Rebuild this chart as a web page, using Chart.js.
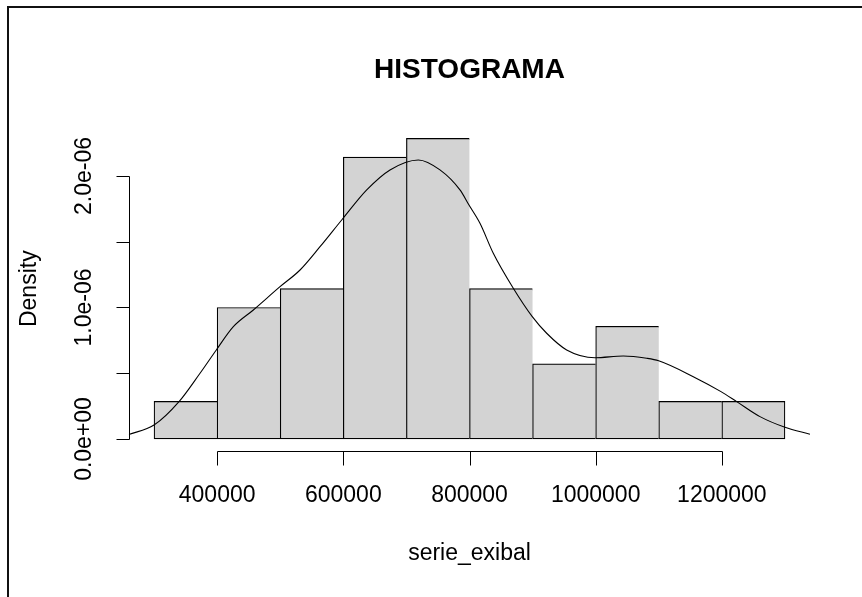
<!DOCTYPE html>
<html><head><meta charset="utf-8">
<script src="https://cdn.jsdelivr.net/npm/chart.js@4.4.0/dist/chart.umd.min.js"></script>
<style>html,body{margin:0;padding:0;background:#fff;}canvas{display:block;}</style>
</head><body>
<canvas id="c" width="862" height="597"></canvas>
<script>
// Histogram bins (midpoints) and densities
const binMids = [350000, 450000, 550000, 650000, 750000, 850000, 950000, 1050000, 1150000, 1250000];
const binDensity = [0.2857e-6, 1.0e-6, 1.1429e-6, 2.1429e-6, 2.2857e-6, 1.1429e-6, 0.5714e-6, 0.8571e-6, 0.2857e-6, 0.2857e-6];
// Kernel density curve
const kdeX = [260000, 300000, 339600, 372900, 398700, 425700, 457400, 499700, 531400, 563100, 598400, 637100, 674000, 718900, 753200, 784900, 799200, 816600, 837700, 869400, 899500, 922300, 954000, 998900, 1043700, 1080800, 1099800, 1154700, 1198600, 1223500, 1260400, 1300000, 1339600];
const kdeY = [0.034e-6, 0.106e-6, 0.284e-6, 0.500e-6, 0.677e-6, 0.854e-6, 0.981e-6, 1.158e-6, 1.285e-6, 1.462e-6, 1.671e-6, 1.894e-6, 2.046e-6, 2.122e-6, 2.046e-6, 1.894e-6, 1.779e-6, 1.640e-6, 1.412e-6, 1.146e-6, 0.930e-6, 0.804e-6, 0.677e-6, 0.618e-6, 0.631e-6, 0.614e-6, 0.595e-6, 0.474e-6, 0.360e-6, 0.284e-6, 0.170e-6, 0.089e-6, 0.036e-6];
// Axis ticks
const xTicks = [400000, 600000, 800000, 1000000, 1200000];
const xTickLabels = ['400000', '600000', '800000', '1000000', '1200000'];
const yTicks = [0, 0.5e-6, 1.0e-6, 1.5e-6, 2.0e-6];
const yTickLabels = ['0.0e+00', '', '1.0e-06', '', '2.0e-06'];
const titleText = 'HISTOGRAMA';
const xTitle = 'serie_exibal';
const yTitle = 'Density';

const FONT = '"Liberation Sans", Arial, Helvetica, sans-serif';

const framePlugin = {
  id: 'frame',
  beforeDraw(chart) {
    const ctx = chart.ctx;
    ctx.save();
    ctx.fillStyle = '#fff';
    ctx.fillRect(0, 0, chart.width, chart.height);
    ctx.fillStyle = '#111';
    ctx.fillRect(7, 6, chart.width - 7, 2);
    ctx.fillRect(7, 6, 2, chart.height - 6);
    ctx.restore();
  }
};

const rAxesPlugin = {
  id: 'rAxes',
  afterDatasetsDraw(chart) {
    const ctx = chart.ctx;
    const xs = chart.scales.x, ys = chart.scales.y, ca = chart.chartArea;
    ctx.save();
    ctx.strokeStyle = '#000';
    ctx.fillStyle = '#000';
    ctx.lineWidth = 1;
    // x axis
    const ax = Math.round(ca.bottom) + 0.5;
    const x0 = Math.round(xs.getPixelForValue(xTicks[0])) + 0.5;
    const x1 = Math.round(xs.getPixelForValue(xTicks[xTicks.length - 1])) + 0.5;
    ctx.beginPath();
    ctx.moveTo(x0, ax); ctx.lineTo(x1, ax);
    xTicks.forEach(v => {
      const px = Math.round(xs.getPixelForValue(v)) + 0.5;
      ctx.moveTo(px, ax); ctx.lineTo(px, ax + 14);
    });
    // y axis
    const ay = Math.round(ca.left) + 0.5;
    const y0 = Math.round(ys.getPixelForValue(yTicks[0])) + 0.5;
    const y1 = Math.round(ys.getPixelForValue(yTicks[yTicks.length - 1])) + 0.5;
    ctx.moveTo(ay, y0); ctx.lineTo(ay, y1);
    yTicks.forEach(v => {
      const py = Math.round(ys.getPixelForValue(v)) + 0.5;
      ctx.moveTo(ay, py); ctx.lineTo(ay - 13, py);
    });
    ctx.stroke();

    ctx.font = '23px ' + FONT;
    ctx.textAlign = 'center';
    ctx.textBaseline = 'alphabetic';
    xTicks.forEach((v, i) => {
      ctx.fillText(xTickLabels[i], xs.getPixelForValue(v), 502);
    });
    yTicks.forEach((v, i) => {
      if (!yTickLabels[i]) return;
      ctx.save();
      ctx.translate(91, ys.getPixelForValue(v));
      ctx.rotate(-Math.PI / 2);
      ctx.fillText(yTickLabels[i], 0, 0);
      ctx.restore();
    });
    // axis titles
    const cx = (ca.left + ca.right) / 2;
    const cy = (ca.top + ca.bottom) / 2;
    ctx.fillText(xTitle, cx, 560);
    ctx.save();
    ctx.translate(36, cy);
    ctx.rotate(-Math.PI / 2);
    ctx.fillText(yTitle, 0, 0);
    ctx.restore();
    // main title
    ctx.font = 'bold 28px ' + FONT;
    ctx.fillText(titleText, cx, 78);
    ctx.restore();
  }
};

new Chart(document.getElementById('c'), {
  type: 'bar',
  data: {
    datasets: [
      {
        type: 'line',
        data: kdeX.map((x, i) => ({ x: x, y: kdeY[i] })),
        borderColor: '#000',
        borderWidth: 1.1,
        pointRadius: 0,
        fill: false,
        cubicInterpolationMode: 'monotone',
        order: 1
      },
      {
        type: 'bar',
        data: binMids.map((x, i) => ({ x: x, y: binDensity[i] })),
        backgroundColor: '#d3d3d3',
        borderColor: '#000',
        borderWidth: c => ({ top: 1.2, bottom: 1.2, left: 1.2, right: c.dataIndex === binMids.length - 1 ? 1.2 : 0 }),
        borderSkipped: false,
        barPercentage: 1,
        categoryPercentage: 1,
        order: 2
      }
    ]
  },
  options: {
    responsive: false,
    animation: false,
    devicePixelRatio: 1,
    layout: { padding: { left: 128.8, right: 51.8, top: 126.4, bottom: 146 } },
    scales: {
      x: { type: 'linear', offset: false, min: 260000, max: 1340000, display: false },
      y: { type: 'linear', min: -0.0914e-6, max: 2.377e-6, display: false }
    },
    plugins: { legend: { display: false }, tooltip: { enabled: false }, title: { display: false } }
  },
  plugins: [framePlugin, rAxesPlugin]
});
</script>
</body></html>
